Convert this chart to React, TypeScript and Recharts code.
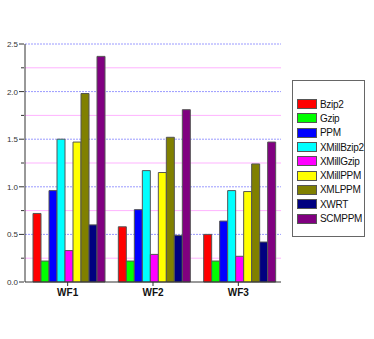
import { BarChart, Bar, XAxis, YAxis, CartesianGrid, Legend } from 'recharts';

const categories = ['WF1', 'WF2', 'WF3'];

const series = [
  { key: 'Bzip2', color: '#ff0000' },
  { key: 'Gzip', color: '#00ff00' },
  { key: 'PPM', color: '#0000ff' },
  { key: 'XMillBzip2', color: '#00ffff' },
  { key: 'XMillGzip', color: '#ff00ff' },
  { key: 'XMillPPM', color: '#ffff00' },
  { key: 'XMLPPM', color: '#808000' },
  { key: 'XWRT', color: '#000080' },
  { key: 'SCMPPM', color: '#800080' },
];

const bzip2 = [0.72, 0.58, 0.5];
const gzip = [0.22, 0.22, 0.22];
const ppm = [0.96, 0.76, 0.64];
const xmillBzip2 = [1.5, 1.17, 0.96];
const xmillGzip = [0.33, 0.29, 0.27];
const xmillPpm = [1.47, 1.15, 0.95];
const xmlPpm = [1.98, 1.52, 1.24];
const xwrt = [0.6, 0.49, 0.42];
const scmPpm = [2.37, 1.81, 1.47];

const majorTicks = [0, 0.5, 1.0, 1.5, 2.0, 2.5];
const minorTicks = [0.25, 0.75, 1.25, 1.75, 2.25];
const allTicks = [0, 0.25, 0.5, 0.75, 1.0, 1.25, 1.5, 1.75, 2.0, 2.25, 2.5];

const data = categories.map((name, i) => ({
  name,
  Bzip2: bzip2[i],
  Gzip: gzip[i],
  PPM: ppm[i],
  XMillBzip2: xmillBzip2[i],
  XMillGzip: xmillGzip[i],
  XMillPPM: xmillPpm[i],
  XMLPPM: xmlPpm[i],
  XWRT: xwrt[i],
  SCMPPM: scmPpm[i],
}));

// grid rows taken from the y axis scale (plain d3 scale or recharts wrapper)
const rowsAt = (vals: number[]) => (props: any) => {
  const scale = props?.yAxis?.scale;
  if (!scale) return [];
  if (typeof scale === 'function') return vals.map((v) => scale(v));
  if (typeof scale.map === 'function') return vals.map((v) => scale.map(v));
  return [];
};

function LegendBox() {
  return (
    <div
      style={{
        boxSizing: 'border-box',
        width: 73,
        height: 157,
        border: '1px solid #666',
        background: '#fff',
        paddingTop: 16,
        paddingLeft: 4,
        fontFamily: 'Liberation Sans, Arial, sans-serif',
        fontSize: 10,
        color: '#111',
      }}
    >
      {series.map((s) => (
        <div key={s.key} style={{ display: 'flex', alignItems: 'center', height: 14.3 }}>
          <span
            style={{
              display: 'inline-block',
              width: 18,
              height: 8,
              background: s.color,
              border: '1px solid #555',
              marginRight: 3,
            }}
          />
          <span style={{ letterSpacing: -0.3 }}>{s.key}</span>
        </div>
      ))}
    </div>
  );
}

function YTick({ x, y, payload }: { x?: number; y?: number; payload?: { value: number } }) {
  const v = payload?.value ?? 0;
  const major = majorTicks.includes(v);
  const px = x ?? 0;
  return (
    <g>
      <line x1={px + (major ? 2 : 4)} x2={px + 7} y1={y} y2={y} stroke="#333" />
      {major && (
        <text x={px + 1} y={(y ?? 0) + 3} textAnchor="end" fontSize={8} fill="#333" fontFamily="Liberation Sans, Arial, sans-serif">
          {v.toFixed(1)}
        </text>
      )}
    </g>
  );
}

export default function App() {
  return (
    <div style={{ position: 'absolute', left: 0, top: 0, width: 374, height: 339, background: '#fff' }}>
      <BarChart
        width={374}
        height={339}
        data={data}
        margin={{ top: 44, right: 93, bottom: 27, left: 0 }}
        barCategoryGap={8}
        barGap={0}
      >
        <CartesianGrid
          vertical={false}
          stroke="#ffb3ff"
          horizontalCoordinatesGenerator={rowsAt(minorTicks)}
        />
        <CartesianGrid
          vertical={false}
          stroke="#9a9aff"
          strokeDasharray="2 1"
          horizontalCoordinatesGenerator={rowsAt(majorTicks.slice(1))}
        />
        <XAxis
          dataKey="name"
          stroke="#333"
          tickSize={4}
          tick={{ fill: '#111', fontSize: 10, fontWeight: 'bold', fontFamily: 'Liberation Sans, Arial, sans-serif' }}
          tickMargin={3}
        />
        <YAxis
          width={25}
          domain={[0, 2.5]}
          ticks={allTicks}
          interval={0}
          stroke="#333"
          tickLine={false}
          tick={<YTick />}
        />
        <Legend
          layout="horizontal"
          align="center"
          verticalAlign="middle"
          content={<LegendBox />}
          wrapperStyle={{ left: 292, top: 80, width: 73, height: 157 }}
        />
        {series.map((s) => (
          <Bar key={s.key} dataKey={s.key} fill={s.color} stroke="#555" strokeWidth={1} isAnimationActive={false} />
        ))}
      </BarChart>
    </div>
  );
}
